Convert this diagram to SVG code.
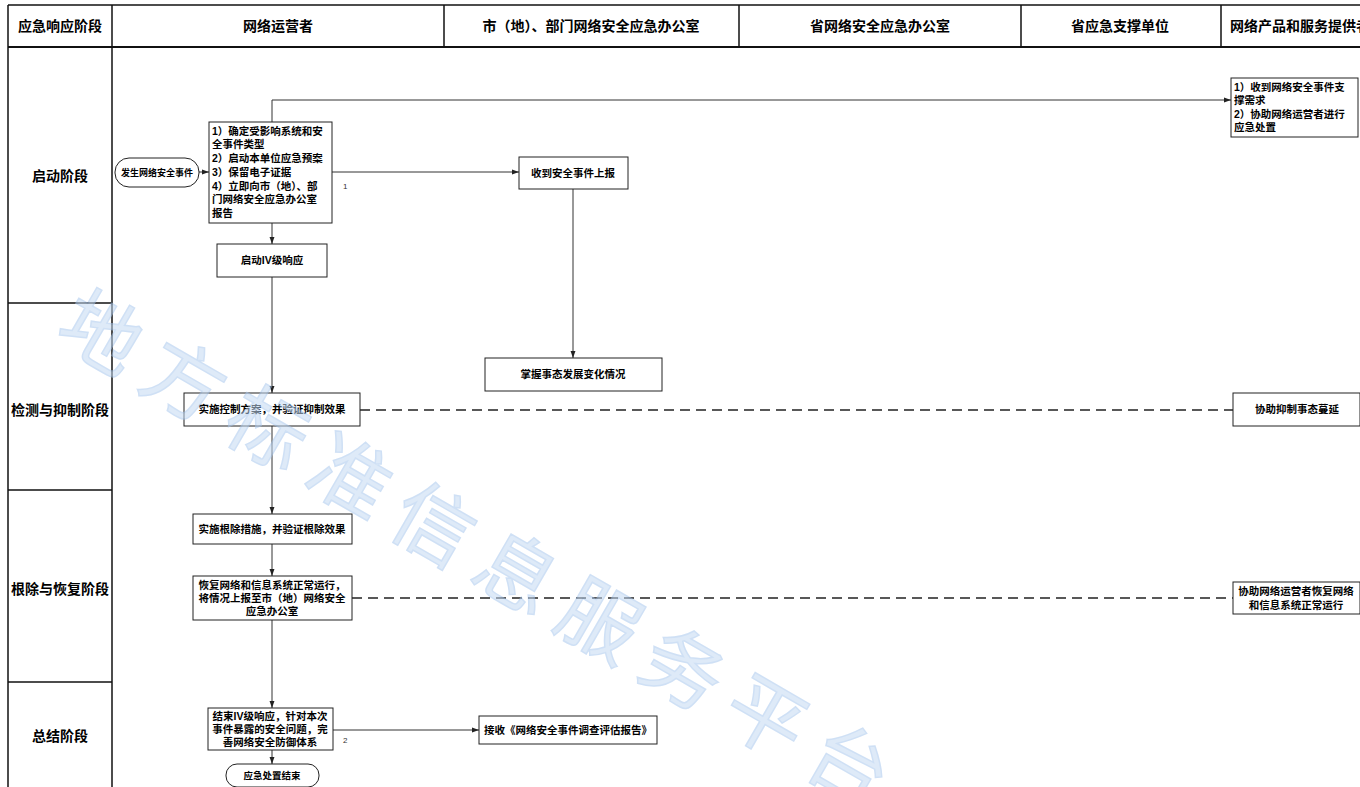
<svg xmlns="http://www.w3.org/2000/svg" width="1360" height="787" viewBox="0 0 1360 787">
<defs>
<style>
text{font-family:"Liberation Sans","Noto Sans CJK SC",sans-serif;font-weight:bold;fill:#000}
.hdr{font-size:14px}
.lab{font-size:14px}
.frame{stroke:#111;stroke-width:1.5;fill:none}
.node rect{fill:#fff;stroke:#222;stroke-width:1}
.t{font-size:10.5px}
.c{text-anchor:middle}
.con{stroke:#333;stroke-width:1;fill:none}
.dash{stroke:#222;stroke-width:1.3;fill:none;stroke-dasharray:10 6}
.num{font-size:8px;font-weight:normal;fill:#333}
</style>
<marker id="ah" viewBox="0 0 10 10" refX="10" refY="5" markerWidth="7" markerHeight="7" orient="auto" markerUnits="userSpaceOnUse">
<path d="M0,1.5 L10,5 L0,8.5 z" fill="#222"/>
</marker>
</defs>
<rect width="1360" height="787" fill="#fff"/>

<g id="frame">
<line class="frame" x1="8" y1="5" x2="1360" y2="5"/>
<line class="frame" x1="8" y1="47" x2="1360" y2="47" style="stroke-width:2"/>
<line class="frame" x1="8" y1="5" x2="8" y2="787"/>
<line class="frame" x1="112" y1="5" x2="112" y2="787"/>
<line class="frame" x1="444" y1="5" x2="444" y2="47"/>
<line class="frame" x1="739" y1="5" x2="739" y2="47"/>
<line class="frame" x1="1021" y1="5" x2="1021" y2="47"/>
<line class="frame" x1="1221" y1="5" x2="1221" y2="47"/>
<line class="frame" x1="8" y1="303" x2="112" y2="303"/>
<line class="frame" x1="8" y1="490" x2="112" y2="490"/>
<line class="frame" x1="8" y1="682" x2="112" y2="682"/>
</g>

<g id="headers">
<text class="hdr c" x="60" y="31">应急响应阶段</text>
<text class="hdr c" x="278" y="31">网络运营者</text>
<text class="hdr c" x="591" y="31">市（地）、部门网络安全应急办公室</text>
<text class="hdr c" x="880" y="31">省网络安全应急办公室</text>
<text class="hdr c" x="1120" y="31">省应急支撑单位</text>
<text class="hdr" x="1230" y="31">网络产品和服务提供者</text>
</g>

<g id="phases">
<text class="lab c" x="60" y="181">启动阶段</text>
<text class="lab c" x="60" y="415">检测与抑制阶段</text>
<text class="lab c" x="60" y="594">根除与恢复阶段</text>
<text class="lab c" x="60" y="741">总结阶段</text>
</g>

<g id="connectors">
<line class="con" x1="199" y1="172" x2="209" y2="172" marker-end="url(#ah)"/>
<polyline class="con" points="272,122 272,100 1231,100" marker-end="url(#ah)"/>
<line class="con" x1="332" y1="172" x2="519" y2="172" marker-end="url(#ah)"/>
<text class="num" x="343" y="189">1</text>
<line class="con" x1="272" y1="223" x2="272" y2="244" marker-end="url(#ah)"/>
<line class="con" x1="272" y1="277" x2="272" y2="393" marker-end="url(#ah)"/>
<line class="con" x1="573" y1="189" x2="573" y2="358" marker-end="url(#ah)"/>
<line class="con" x1="272" y1="426" x2="272" y2="514" marker-end="url(#ah)"/>
<line class="dash" x1="360" y1="410" x2="1233" y2="410"/>
<line class="con" x1="272" y1="544" x2="272" y2="576" marker-end="url(#ah)"/>
<line class="dash" x1="352" y1="598" x2="1233" y2="598"/>
<line class="con" x1="272" y1="620" x2="272" y2="708" marker-end="url(#ah)"/>
<line class="con" x1="333" y1="730" x2="479" y2="730" marker-end="url(#ah)"/>
<text class="num" x="343" y="743">2</text>
<line class="con" x1="272" y1="750" x2="272" y2="764" marker-end="url(#ah)"/>
</g>

<g id="n-start" class="node">
<rect x="115" y="158" width="84" height="29" rx="14" ry="14"/>
<text class="c" x="157" y="176" style="font-size:9px">发生网络安全事件</text>
</g>

<g id="n-confirm" class="node">
<rect x="209" y="122" width="123" height="101"/>
<text class="t" x="212" y="135">1）确定受影响系统和安</text>
<text class="t" x="212" y="148">全事件类型</text>
<text class="t" x="212" y="162">2）启动本单位应急预案</text>
<text class="t" x="212" y="176">3）保留电子证据</text>
<text class="t" x="212" y="190">4）立即向市（地）、部</text>
<text class="t" x="212" y="203">门网络安全应急办公室</text>
<text class="t" x="212" y="217">报告</text>
</g>

<g id="n-iv" class="node">
<rect x="217" y="244" width="110" height="33"/>
<text class="t c" x="272" y="264">启动IV级响应</text>
</g>

<g id="n-receive" class="node">
<rect x="519" y="157" width="109" height="32"/>
<text class="t c" x="573" y="177">收到安全事件上报</text>
</g>

<g id="n-grasp" class="node">
<rect x="485" y="358" width="177" height="33"/>
<text class="t c" x="573" y="378">掌握事态发展变化情况</text>
</g>

<g id="n-support" class="node">
<rect x="1231" y="78" width="127" height="59"/>
<text class="t" x="1234" y="91">1）收到网络安全事件支</text>
<text class="t" x="1234" y="104">撑需求</text>
<text class="t" x="1234" y="118">2）协助网络运营者进行</text>
<text class="t" x="1234" y="131">应急处置</text>
</g>

<g id="n-control" class="node">
<rect x="184" y="393" width="176" height="33"/>
<text class="t c" x="272" y="413">实施控制方案，并验证抑制效果</text>
</g>

<g id="n-assist-contain" class="node">
<rect x="1233" y="393" width="127" height="33"/>
<text class="t c" x="1297" y="413">协助抑制事态蔓延</text>
</g>

<g id="n-eradicate" class="node">
<rect x="193" y="514" width="159" height="30"/>
<text class="t c" x="272" y="533">实施根除措施，并验证根除效果</text>
</g>

<g id="n-restore" class="node">
<rect x="193" y="576" width="159" height="44"/>
<text class="t c" x="272" y="589">恢复网络和信息系统正常运行，</text>
<text class="t c" x="272" y="602">将情况上报至市（地）网络安全</text>
<text class="t c" x="272" y="615">应急办公室</text>
</g>

<g id="n-assist-restore" class="node">
<rect x="1233" y="582" width="127" height="32"/>
<text class="t c" x="1296" y="595">协助网络运营者恢复网络</text>
<text class="t c" x="1296" y="609">和信息系统正常运行</text>
</g>

<g id="n-end-iv" class="node">
<rect x="208" y="708" width="125" height="42"/>
<text class="t c" x="270" y="720">结束IV级响应，针对本次</text>
<text class="t c" x="270" y="733">事件暴露的安全问题，完</text>
<text class="t c" x="270" y="746">善网络安全防御体系</text>
</g>

<g id="n-report" class="node">
<rect x="479" y="716" width="178" height="28"/>
<text class="t c" x="568" y="734">接收《网络安全事件调查评估报告》</text>
</g>

<g id="n-finish" class="node">
<rect x="226" y="764" width="93" height="23" rx="11" ry="11"/>
<text class="c" x="272" y="779" style="font-size:9.5px">应急处置结束</text>
</g>

<g id="watermark" opacity="0.55">
<text x="0" y="0" transform="translate(52,338) rotate(30)" style="font-size:80px;font-weight:normal;fill:#c4daf3;stroke:#a9c8ee;stroke-width:1.5;letter-spacing:16px">地方标准信息服务平台</text>
</g>
</svg>
